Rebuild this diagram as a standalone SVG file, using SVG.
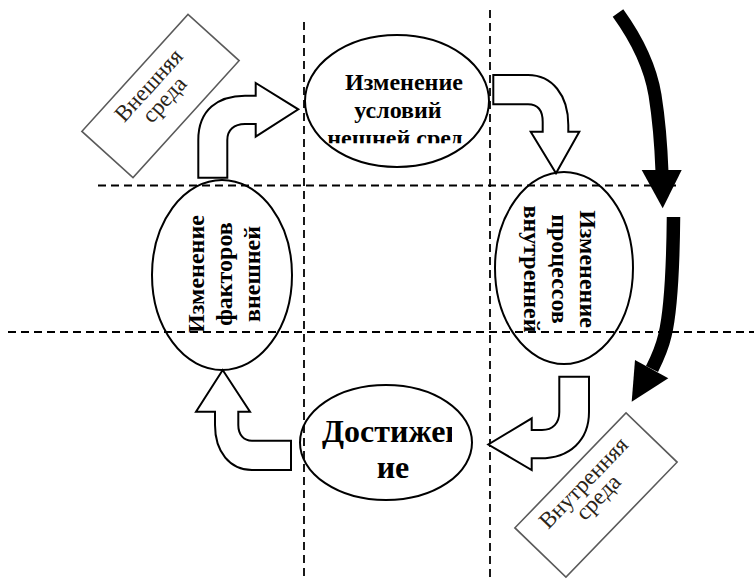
<svg xmlns="http://www.w3.org/2000/svg" width="754" height="579" viewBox="0 0 754 579">
<style>
.dash{stroke:#000;stroke-width:1.8;stroke-dasharray:8 5;fill:none}
.ell{fill:none;stroke:#000;stroke-width:2}
.blk{fill:#fff;stroke:#000;stroke-width:2;stroke-linejoin:miter}
.thick{fill:none;stroke:#000;stroke-linecap:butt}
.t{font-family:'Liberation Serif','DejaVu Serif','Times New Roman',serif;font-weight:700;font-size:24px;fill:#000;text-anchor:middle}
.big{font-size:32px}
.lbl{font-family:'Liberation Serif','DejaVu Serif','Times New Roman',serif;font-size:23px;fill:#2a2418;text-anchor:middle}
.box{fill:#fff;stroke:#5a5a5a;stroke-width:1.6}
</style>
<defs>
<clipPath id="cTop"><rect x="315" y="60" width="160" height="83.3"/></clipPath>
<clipPath id="cBot"><rect x="300" y="400" width="152" height="100"/></clipPath>
<clipPath id="cRight"><rect x="500" y="190" width="120" height="143"/></clipPath>
</defs>
<g id="grid">
<line class="dash" x1="304" y1="22" x2="304" y2="579"/>
<line class="dash" x1="490" y1="10" x2="490" y2="579"/>
<line class="dash" x1="98" y1="185.5" x2="676" y2="185.5"/>
<line class="dash" x1="8" y1="332" x2="754" y2="332"/>
</g>
<g id="connectors">
<path class="blk" d="M198.3,177.7 L198.3,140 C198.3,110 218,95.7 245,95.7 L255.7,95.7 L255.7,83 L298.3,109.3 L255.7,136.7 L255.7,124 L245,124 C234,124 227.3,130 227.3,140 L227.3,177.7 Z"/>
<path class="blk" d="M493.3,75 L528,75 C552,75 568.3,95 568.3,125 L568.3,131.7 L579.3,131.7 L556,173.3 L530.7,131.7 L542.7,131.7 L542.7,122 C542.7,110 538,104.3 528,104.3 L493.3,104.3 Z"/>
<path class="blk" d="M559.3,376.7 L589,376.7 L589,412 C589,440 570,458.3 540,458.3 L531.7,458.3 L531.7,470 L488.3,444.5 L531.7,418.3 L531.7,430 L542,430 C553,430 559.3,423 559.3,412 Z"/>
<path class="blk" d="M291,440.7 L291,470 L252,470 C230,470 215,452 215,425 L215,411.7 L196,411.7 L222.7,370 L250,411.7 L238.3,411.7 L238.3,425 C238.3,435 244,440.7 252,440.7 Z"/>
<path class="thick" stroke-width="13" d="M618,13 C636,38 650,65 655,95 C659,120 661,145 662,172"/>
<polygon points="641.7,170 681.7,170 662.7,208.3" fill="#000"/>
<path class="thick" stroke-width="13.5" d="M673.5,217 C673,270 671,310 665,335 C662,348 658,357 652,369"/>
<polygon points="635,360 668.3,378.3 631.7,401.7" fill="#000"/>
</g>
<g id="node-top">
<ellipse class="ell" cx="397" cy="101" rx="92" ry="66"/>
<g clip-path="url(#cTop)">
<text class="t" x="404" y="90">Изменение</text>
<text class="t" x="398" y="118">условий</text>
<text class="t" x="395" y="146">нешней сред</text>
</g>
</g>
<g id="node-left">
<ellipse class="ell" cx="222" cy="275" rx="70" ry="95"/>
<g transform="translate(232,274) rotate(-90)">
<text class="t" x="0" y="-28">Изменение</text>
<text class="t" x="0" y="0">факторов</text>
<text class="t" x="0" y="28">внешней</text>
</g>
</g>
<g id="node-right">
<ellipse class="ell" cx="564" cy="268" rx="69" ry="96"/>
<g clip-path="url(#cRight)">
<g transform="translate(552,269) rotate(90)">
<text class="t" x="0" y="-28">Изменение</text>
<text class="t" x="0" y="0">процессов</text>
<text class="t" x="0" y="28">внутренней</text>
</g>
</g>
</g>
<g id="node-bottom">
<ellipse class="ell" cx="386" cy="442.5" rx="86" ry="57.5"/>
<g clip-path="url(#cBot)">
<text class="t big" x="322" y="442" style="text-anchor:start">Достижен</text>
<text class="t big" x="393" y="478">ие</text>
</g>
</g>
<g id="label-outer" transform="translate(160.5,96) rotate(-47.8)">
<rect class="box" x="-79" y="-34.5" width="158" height="69"/>
<text class="lbl" x="0" y="-8.6">Внешняя</text>
<text class="lbl" x="0" y="12.5">среда</text>
</g>
<g id="label-inner" transform="translate(596,495) rotate(-46)">
<rect class="box" x="-80" y="-35.5" width="160" height="71"/>
<text class="lbl" x="0" y="-10">Внутренняя</text>
<text class="lbl" x="0" y="10.5">среда</text>
</g>
</svg>
